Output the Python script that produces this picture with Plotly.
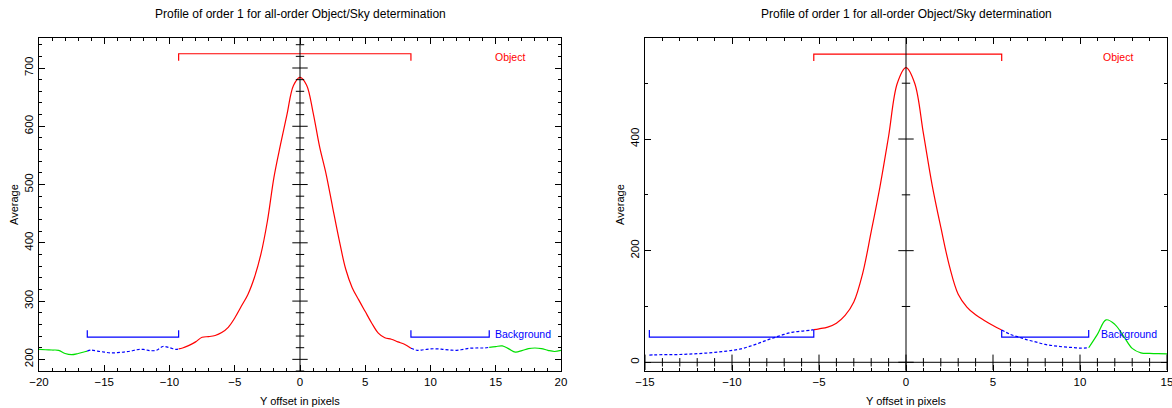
import numpy as np
import plotly.graph_objects as go

TITLE = "Profile of order 1 for all-order Object/Sky determination"
XTITLE = "Y offset in pixels"
YTITLE = "Average"

# ---------------- left panel data ----------------
left_x = np.arange(-20, 20.01, 0.5)
left_avg = [217, 216.5, 216, 215.5, 210, 208, 210, 213, 216, 214,
            212.5, 211, 211.5, 212.5, 214, 216.5, 217, 215, 215.5, 222,
            220, 217, 219.5, 224, 230, 238, 239, 241, 246, 255,
            271, 291, 311, 340, 380, 437, 512, 568, 620, 670,
            684,
            671, 624, 565, 518, 461, 405, 355, 323, 302, 282,
            262, 245, 237, 234.5, 230, 226, 219, 215.5, 216.5, 218,
            218, 217, 216, 215.5, 217, 219, 219.5, 219.5, 220.5, 222,
            223, 218, 212.5, 215, 218.5, 219.5, 218.5, 215.5, 213.5, 215.5]
left_obj = [-9.3, 8.5]
left_bkg = [[-16.3, -9.3], [8.5, 14.5]]
left_obj_level = [724.5, 712.5]   # bar level, end-tick level
left_bkg_level = [238, 250]
left_xrange = [-20, 20]
left_yrange = [180, 751.5]
left_xticks = [-20, -15, -10, -5, 0, 5, 10, 15, 20]
left_yticks = [200, 300, 400, 500, 600, 700]
left_label_obj = [16.1, 719]
left_label_bkg = [17.1, 243]

# ---------------- right panel data ----------------
right_x = np.concatenate([[-14.75], np.arange(-14.5, 15.01, 0.5)])
right_avg = [13, 13.2, 13.6, 13.8, 14, 14.6, 15.4, 16.5, 17.8, 19.5,
             21.3, 24, 28.4, 33.7, 39.6, 45, 50, 54, 56, 57.4,
             60, 63, 70, 84, 108, 158, 234, 314, 405, 500,
             528,
             500, 410, 318, 242, 172, 122, 99, 85, 75, 66,
             58, 50, 45, 40, 36, 32, 29.6, 27.8, 26.6, 25.4,
             26, 50, 76, 68, 47, 25, 17, 16, 15.4, 15]
right_obj = [-5.3, 5.5]
right_bkg = [[-14.75, -5.3], [5.5, 10.5]]
right_obj_level = [552, 540]
right_bkg_level = [45, 58]
right_xrange = [-15, 15]
right_yrange = [-15.6, 581]
right_xticks = [-15, -10, -5, 0, 5, 10, 15]
right_yticks = [0, 200, 400]
right_label_obj = [12.2, 547]
right_label_bkg = [12.8, 50]

W, H = 1172, 408
FONT = "Liberation Sans, Arial, sans-serif"
RED, BLUE, GREEN = "#ff0000", "#0000ff", "#00e000"

fig = go.Figure()


def seg(xs, ys, lo, hi):
    xs = np.asarray(xs, float)
    ys = np.asarray(ys, float)
    lo = max(lo, xs.min())
    hi = min(hi, xs.max())
    m = (xs > lo) & (xs < hi)
    sx = np.concatenate([[lo], xs[m], [hi]])
    sy = np.concatenate([[np.interp(lo, xs, ys)], ys[m], [np.interp(hi, xs, ys)]])
    return sx, sy


def add_panel(xs, ys, obj, bkg, obj_lv, bkg_lv, xa, ya, yticks, minor_y, xticks, lab_obj, lab_bkg, yzero):
    xs = np.asarray(xs, float)
    lo_all, hi_all = xs.min(), xs.max()
    bounds = sorted([obj] + bkg)
    green = []
    cur = lo_all
    for a, b in bounds:
        if a > cur + 1e-9:
            green.append([cur, a])
        cur = max(cur, b)
    if cur < hi_all - 1e-9:
        green.append([cur, hi_all])
    for a, b in green:
        sx, sy = seg(xs, ys, a, b)
        fig.add_trace(go.Scatter(x=sx, y=sy, mode="lines", xaxis=xa, yaxis=ya,
                                 line=dict(color=GREEN, width=1.2, shape="spline", smoothing=1.0),
                                 showlegend=False, hoverinfo="skip"))
    for a, b in bkg:
        sx, sy = seg(xs, ys, a, b)
        fig.add_trace(go.Scatter(x=sx, y=sy, mode="lines", xaxis=xa, yaxis=ya,
                                 line=dict(color=BLUE, width=1.2, dash="3px,2px", shape="spline", smoothing=1.0),
                                 showlegend=False, hoverinfo="skip"))
    sx, sy = seg(xs, ys, obj[0], obj[1])
    fig.add_trace(go.Scatter(x=sx, y=sy, mode="lines", xaxis=xa, yaxis=ya,
                             line=dict(color=RED, width=1.2, shape="spline", smoothing=1.0),
                             showlegend=False, hoverinfo="skip"))
    fig.add_trace(go.Scatter(x=[obj[0], obj[0], obj[1], obj[1]],
                             y=[obj_lv[1], obj_lv[0], obj_lv[0], obj_lv[1]],
                             mode="lines", xaxis=xa, yaxis=ya, line=dict(color=RED, width=1.2),
                             showlegend=False, hoverinfo="skip"))
    for a, b in bkg:
        fig.add_trace(go.Scatter(x=[a, a, b, b], y=[bkg_lv[1], bkg_lv[0], bkg_lv[0], bkg_lv[1]],
                                 mode="lines", xaxis=xa, yaxis=ya, line=dict(color=BLUE, width=1.2),
                                 showlegend=False, hoverinfo="skip"))
    fig.add_shape(type="line", xref=xa, yref=ya + " domain", x0=0, x1=0, y0=0, y1=1,
                  line=dict(color="black", width=1))
    fig.add_trace(go.Scatter(x=[0] * len(yticks), y=yticks, mode="markers", xaxis=xa, yaxis=ya,
                             marker=dict(symbol="line-ew", size=11, line=dict(color="black", width=1)),
                             showlegend=False, hoverinfo="skip"))
    fig.add_trace(go.Scatter(x=[0] * len(minor_y), y=minor_y, mode="markers", xaxis=xa, yaxis=ya,
                             marker=dict(symbol="line-ew", size=6, line=dict(color="black", width=1)),
                             showlegend=False, hoverinfo="skip"))
    if yzero:
        fig.add_shape(type="line", xref=xa + " domain", yref=ya, x0=0, x1=1, y0=0, y1=0,
                      line=dict(color="black", width=1))
        minor_x = [v for v in range(int(min(xticks)), int(max(xticks)) + 1) if v not in xticks]
        fig.add_trace(go.Scatter(x=xticks, y=[0] * len(xticks), mode="markers", xaxis=xa, yaxis=ya,
                                 marker=dict(symbol="line-ns", size=11, line=dict(color="black", width=1)),
                                 showlegend=False, hoverinfo="skip"))
        fig.add_trace(go.Scatter(x=minor_x, y=[0] * len(minor_x), mode="markers", xaxis=xa, yaxis=ya,
                                 marker=dict(symbol="line-ns", size=6, line=dict(color="black", width=1)),
                                 showlegend=False, hoverinfo="skip"))
    fig.add_annotation(x=lab_obj[0], y=lab_obj[1], xref=xa, yref=ya, text="Object", showarrow=False,
                       xanchor="center", yanchor="middle",
                       font=dict(family=FONT, size=10.5, color=RED))
    fig.add_annotation(x=lab_bkg[0], y=lab_bkg[1], xref=xa, yref=ya, text="Background", showarrow=False,
                       xanchor="center", yanchor="middle",
                       font=dict(family=FONT, size=10.5, color=BLUE))


left_minor_y = [v for v in range(180, 752, 20) if v not in left_yticks]
right_minor_y = [100, 300, 500]

add_panel(left_x, left_avg, left_obj, left_bkg, left_obj_level, left_bkg_level, "x", "y",
          left_yticks, left_minor_y, left_xticks, left_label_obj, left_label_bkg, False)
add_panel(right_x, right_avg, right_obj, right_bkg, right_obj_level, right_bkg_level, "x2", "y2",
          right_yticks, right_minor_y, right_xticks, right_label_obj, right_label_bkg, True)

yd = [(H - 371) / H, (H - 38) / H]
ld = [39 / W, 561 / W]
rd = [645 / W, 1167 / W]

common = dict(showline=True, linecolor="black", linewidth=1, mirror="allticks", ticks="inside",
              ticklen=6, tickwidth=1, tickcolor="black", showgrid=False, zeroline=False,
              automargin=False, ticklabeloverflow="allow",
              tickfont=dict(family=FONT, size=11.5, color="black"))

fig.update_layout(
    width=W, height=H, margin=dict(l=0, r=0, t=0, b=0, autoexpand=False),
    paper_bgcolor="white", plot_bgcolor="white", showlegend=False,
    xaxis=dict(domain=ld, anchor="y", range=left_xrange, tickvals=left_xticks,
               minor=dict(ticks="inside", ticklen=3, dtick=1, tickcolor="black"), **common),
    yaxis=dict(domain=yd, anchor="x", range=left_yrange, tickvals=left_yticks, tickangle=-90,
               minor=dict(ticks="inside", ticklen=3, dtick=20, tick0=0, tickcolor="black"), **common),
    xaxis2=dict(domain=rd, anchor="y2", range=right_xrange, tickvals=right_xticks,
                minor=dict(ticks="inside", ticklen=3, dtick=1, tickcolor="black"), **common),
    yaxis2=dict(domain=yd, anchor="x2", range=right_yrange, tickvals=right_yticks, tickangle=-90,
                minor=dict(ticks="inside", ticklen=3, dtick=100, tick0=0, tickcolor="black"), **common),
)

for d in (ld, rd):
    cx = (d[0] + d[1]) / 2
    fig.add_annotation(x=cx, y=(H - 14) / H, xref="paper", yref="paper", text=TITLE, showarrow=False,
                       xanchor="center", yanchor="middle",
                       font=dict(family=FONT, size=12, color="black"))
    fig.add_annotation(x=cx, y=(H - 401) / H, xref="paper", yref="paper", text=XTITLE, showarrow=False,
                       xanchor="center", yanchor="middle",
                       font=dict(family=FONT, size=11, color="black"))
    fig.add_annotation(x=d[0] - 25 / W, y=(H - 205) / H, xref="paper", yref="paper", text=YTITLE,
                       xanchor="center", yanchor="middle",
                       showarrow=False, textangle=-90, font=dict(family=FONT, size=11, color="black"))

fig.write_html("out.html", config={"displayModeBar": False},
               post_script="document.body.style.margin='0';document.body.style.overflow='hidden';")
